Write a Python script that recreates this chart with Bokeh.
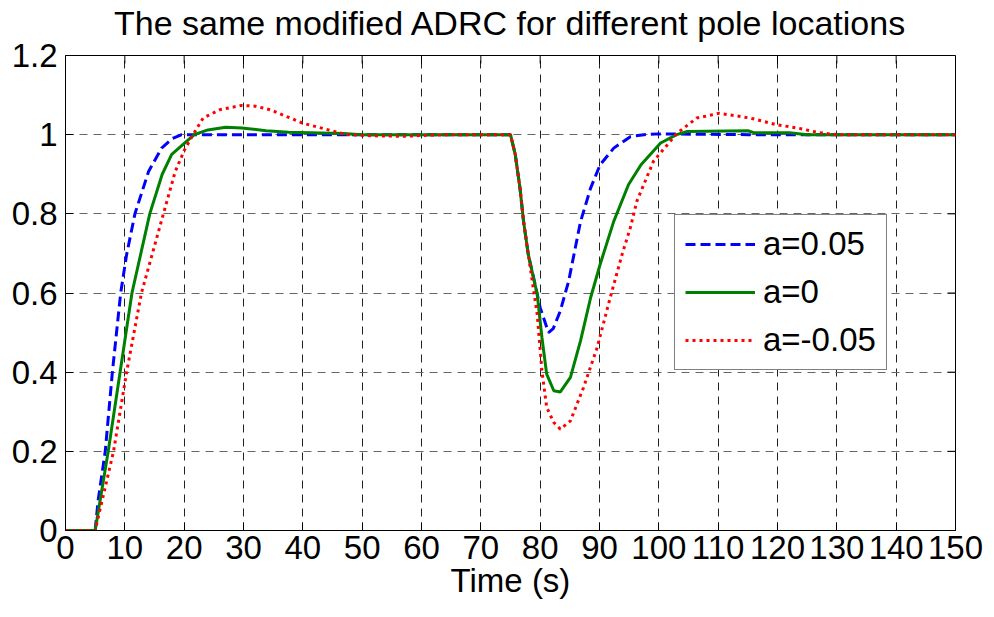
import math
from bokeh.plotting import figure
from bokeh.models import FixedTicker, Range1d, Legend, LegendItem, LinearAxis
from bokeh.embed import file_html
from bokeh.resources import INLINE

# ---- data ----
t_pos = [0, 5, 5.5, 6.7, 7.9, 9.3, 10.3, 11.7, 14, 16.2, 18, 19.6, 21, 75,
         75.8, 76.6, 77.2, 78.0, 78.9, 80, 81.4, 82.2, 83.4, 84.8, 86.8, 88.5,
         90.1, 92.4, 95.2, 97.5, 100, 115, 150]
y_pos = [0, 0, 0.076, 0.2, 0.4, 0.6, 0.697, 0.8, 0.907, 0.966, 0.99, 1.0, 1.0, 1.0,
         0.95, 0.865, 0.781, 0.697, 0.638, 0.563, 0.5, 0.51, 0.555, 0.63, 0.78, 0.865,
         0.924, 0.966, 0.995, 1.0, 1.002, 1.0, 1.0]

t_zero = [0, 5, 7.2, 9.2, 11.2, 14.2, 16.3, 17.9, 21.7, 24, 27, 29.7, 33.8, 37.6,
          46.8, 50, 75, 75.8, 76.6, 77.2, 78.0, 79.5, 80.3, 81.1, 82.3, 83.4, 85.1,
          86.8, 88.5, 90.1, 92.4, 94.9, 97, 100.3, 103, 104.8, 115, 116, 122, 125, 150]
y_zero = [0, 0, 0.2, 0.4, 0.6, 0.8, 0.9, 0.95, 1.0, 1.012, 1.019, 1.017, 1.01, 1.006,
          1.003, 1.0, 1.0, 0.95, 0.865, 0.781, 0.697, 0.597, 0.487, 0.395, 0.353, 0.35, 0.387,
          0.479, 0.588, 0.672, 0.781, 0.874, 0.924, 0.979, 1.0, 1.008, 1.01, 1.005, 1.005, 1.0, 1.0]

t_neg = [0, 5, 8.1, 10.3, 12.8, 16.5, 18.5, 20, 21.5, 23.2, 26, 29.7, 32, 34.5, 40,
         44.6, 47.4, 52, 57, 62, 66, 75, 75.8, 76.6, 77.2, 78.0, 79.5, 80.3, 81.1,
         82.3, 83.4, 85.1, 87.3, 89.6, 91.8, 93.8, 95.2, 96.3, 99.1, 103.1, 106.4,
         110.2, 115.4, 119.9, 123.3, 127, 130, 150]
y_neg = [0, 0, 0.2, 0.4, 0.6, 0.8, 0.907, 0.96, 1.0, 1.042, 1.063, 1.074, 1.072, 1.063,
         1.029, 1.011, 1.0, 0.997, 0.996, 0.999, 1.0, 1.0, 0.95, 0.865, 0.781, 0.697,
         0.546, 0.403, 0.311, 0.273, 0.256, 0.277, 0.361, 0.462, 0.588, 0.697, 0.765,
         0.832, 0.933, 1.004, 1.042, 1.054, 1.042, 1.025, 1.017, 1.005, 1.0, 1.0]

title_text = "The same modified ADRC for different pole locations"
labels = ["a=0.05", "a=0", "a=-0.05"]
x_ticks = list(range(0, 151, 10))
y_ticks = [0, 0.2, 0.4, 0.6, 0.8, 1.0, 1.2]
y_tick_labels = ["0", "0.2", "0.4", "0.6", "0.8", "1", "1.2"]
X_MAX = 150
Y_MAX = 1.2

FONT = "Liberation Sans"
FS = "33px"

p = figure(width=994, height=617, output_backend="svg", toolbar_location=None,
           x_range=Range1d(0, X_MAX), y_range=Range1d(0, Y_MAX),
           min_border_left=65, min_border_right=39, min_border_top=54,
           min_border_bottom=87)
p.background_fill_color = "white"
p.border_fill_color = "white"
p.outline_line_color = "black"
p.outline_line_width = 1

xb = p.below[0]
yl = p.left[0]

for ax in (xb, yl):
    ax.major_label_text_font = FONT
    ax.major_label_text_font_size = FS
    ax.major_label_text_color = "black"
    ax.major_tick_in = 8
    ax.major_tick_out = 0
    ax.minor_tick_in = 0
    ax.minor_tick_out = 0
    ax.axis_line_color = "black"
    ax.major_tick_line_color = "black"
    ax.axis_label_text_font = FONT
    ax.axis_label_text_font_size = FS
    ax.axis_label_text_font_style = "normal"
    ax.axis_label_text_color = "black"

xb.ticker = FixedTicker(ticks=x_ticks)
yl.ticker = FixedTicker(ticks=y_ticks)
yl.major_label_overrides = {v: s for v, s in zip(y_ticks, y_tick_labels)}
xb.axis_label = "Time (s)"
xb.major_label_standoff = 5
xb.axis_label_standoff = 0
yl.major_label_standoff = 8

# title drawn as the label of a tick-less axis above the frame
title_axis = LinearAxis(ticker=FixedTicker(ticks=[]), axis_label=title_text,
                        axis_label_text_font=FONT, axis_label_text_font_size="34px",
                        axis_label_text_font_style="normal",
                        axis_label_text_color="black", axis_label_standoff=14,
                        major_tick_out=0, major_tick_in=0, minor_tick_out=0,
                        minor_tick_in=0, major_label_standoff=0,
                        axis_line_color=None)
p.add_layout(title_axis, "above")

# box ticks on top and right (inward), drawn as short screen-length rays
p.ray(x=x_ticks, y=[Y_MAX] * len(x_ticks), length=8, length_units="screen",
      angle=-math.pi / 2, line_color="black", line_width=1)
p.ray(x=[X_MAX] * len(y_ticks), y=y_ticks, length=8, length_units="screen",
      angle=math.pi, line_color="black", line_width=1)

p.xgrid.ticker = FixedTicker(ticks=x_ticks)
p.ygrid.ticker = FixedTicker(ticks=y_ticks)
p.xgrid.grid_line_color = "#222222"
p.ygrid.grid_line_color = "#666666"
for g in (p.xgrid, p.ygrid):
    g.grid_line_dash = "8 6"
    g.grid_line_width = 1

r1 = p.line(t_pos, y_pos, line_color="#0000FF", line_width=3, line_dash="10 5")
r2 = p.line(t_zero, y_zero, line_color="#008000", line_width=3)
r3 = p.line(t_neg, y_neg, line_color="#FF0000", line_width=3, line_dash="3 4")

legend = Legend(items=[LegendItem(label=labels[0], renderers=[r1]),
                       LegendItem(label=labels[1], renderers=[r2]),
                       LegendItem(label=labels[2], renderers=[r3])],
                location=(609, 160))
legend.label_text_font = FONT
legend.label_text_font_size = FS
legend.label_text_color = "black"
legend.glyph_width = 70
legend.glyph_height = 30
legend.label_height = 30
legend.label_standoff = 8
legend.spacing = 10
legend.padding = 10
legend.margin = 0
legend.border_line_color = "black"
legend.border_line_width = 1
legend.background_fill_color = "white"
legend.background_fill_alpha = 1
p.add_layout(legend, "center")

open("out.html", "w").write(file_html(p, INLINE))
